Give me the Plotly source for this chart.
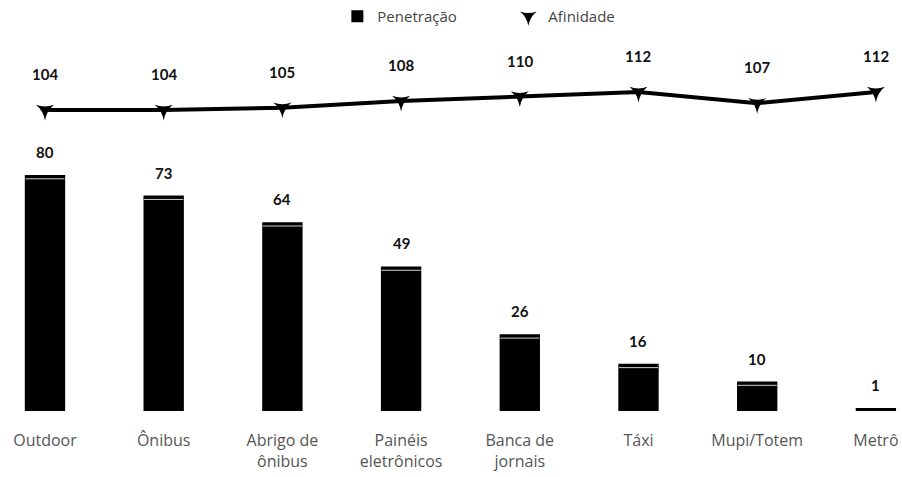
import plotly.graph_objects as go

categorias = ["Outdoor", "Ônibus", "Abrigo de<br>ônibus", "Painéis<br>eletrônicos",
              "Banca de<br>jornais", "Táxi", "Mupi/Totem", "Metrô"]
penetracao = [80, 73, 64, 49, 26, 16, 10, 1]
afinidade = [104, 104, 105, 108, 110, 112, 107, 112]

x = list(range(len(categorias)))
label_font = dict(family="Lato, Noto Sans, sans-serif", size=15, color="#111111")

fig = go.Figure()

# Penetração: black columns
fig.add_trace(go.Bar(
    x=x, y=penetracao, name="Penetração",
    marker=dict(color="#000000", line=dict(width=0)),
    width=0.34,
    yaxis="y",
))

# thin light highlight just under the top of each column
fig.add_trace(go.Scatter(
    x=x, y=[v - 1.3 for v in penetracao], mode="markers",
    marker=dict(symbol="line-ew", size=28, line=dict(color="#cfcfcf", width=1)),
    showlegend=False, hoverinfo="skip", yaxis="y",
))

# Afinidade: line on its own scale
fig.add_trace(go.Scatter(
    x=x, y=afinidade, mode="lines",
    line=dict(color="#000000", width=4),
    showlegend=False, yaxis="y2", legendgroup="af",
))
fig.add_trace(go.Scatter(
    x=x, y=afinidade, name="Afinidade", mode="markers",
    marker=dict(symbol="star-triangle-down", size=13, color="#000000"),
    yaxis="y2", legendgroup="af",
))

annotations = []
for i, v in enumerate(penetracao):
    annotations.append(dict(
        x=i, y=v, xref="x", yref="y", text=f"<b>{v}</b>", showarrow=False,
        yanchor="bottom", yshift=12, font=label_font,
    ))
for i, v in enumerate(afinidade):
    annotations.append(dict(
        x=i, y=v, xref="x", yref="y2", text=f"<b>{v}</b>", showarrow=False,
        yanchor="bottom", yshift=25, font=label_font,
    ))

fig.update_layout(
    width=902, height=477,
    margin=dict(l=0, r=0, t=0, b=66),
    paper_bgcolor="white", plot_bgcolor="white",
    showlegend=True,
    legend=dict(
        orientation="h", x=0.374, xanchor="left", y=1.0, yanchor="top",
        font=dict(family="Open Sans, Noto Sans, sans-serif", size=15, color="#444444"),
        itemsizing="constant", traceorder="normal",
        entrywidth=126, entrywidthmode="pixels",
    ),
    xaxis=dict(
        range=[-0.379, 7.22], tickmode="array", tickvals=x, ticktext=categorias,
        showgrid=False, zeroline=False, showline=False, ticks="",
        tickfont=dict(family="Open Sans, Noto Sans, sans-serif", size=16, color="#555555"),
        ticklabelstandoff=18,
    ),
    yaxis=dict(range=[0, 139.3], visible=False, showgrid=False),
    yaxis2=dict(range=[-29.8, 152.9], overlaying="y", visible=False, showgrid=False),
    annotations=annotations,
)

fig.write_html("out.html")
